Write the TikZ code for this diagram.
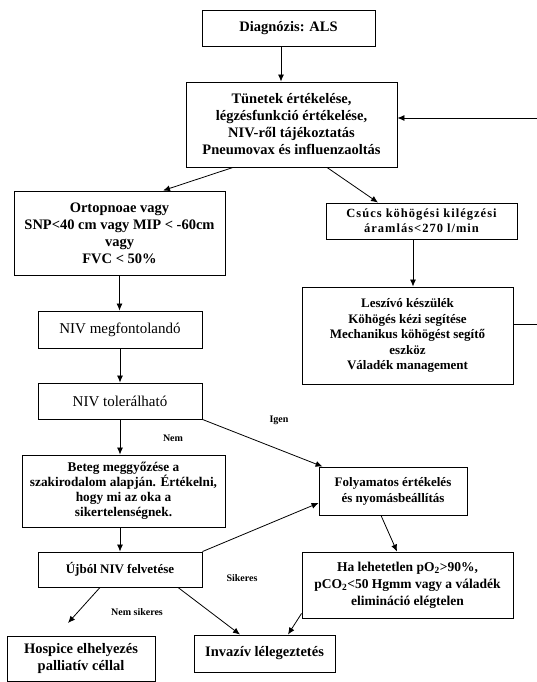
\documentclass[tikz,border=0pt]{standalone}
\usepackage{fontspec}
\setmainfont{Liberation Serif}
\usetikzlibrary{arrows.meta}

\begin{document}
\begin{tikzpicture}[x=1pt, y=-1pt,
	box/.style={draw, line width=0.9pt, align=center, inner sep=1pt, font=\bfseries\fontsize{14.5}{17}\selectfont},
	arr/.style={line width=0.8pt, -{Latex[length=7pt, width=6pt]}},
	lbl/.style={font=\bfseries\fontsize{10}{12}\selectfont}]
				\fill[white] (0,0) rectangle (537,682);
				\useasboundingbox (0,0) rectangle (537,682);
				\node[box, minimum width=173pt, minimum height=36pt] (diag) at (288.5,28) {Diagnózis: ALS};
				\node[box, minimum width=211pt, minimum height=85pt] (tunetek) at (291.5,124.5) {Tünetek értékelése,\\ légzésfunkció értékelése,\\ NIV-ről tájékoztatás\\ Pneumovax és influenzaoltás};
				\node[box, minimum width=211pt, minimum height=84pt] (orto) at (119.5,233) {Ortopnoae vagy\\ SNP<40 cm vagy MIP < -60cm\\ vagy\\ FVC < 50\%};
				\node[box, font=\bfseries\fontsize{12.5}{15}\selectfont\addfontfeature{LetterSpace=8}, minimum width=191pt, minimum height=36pt] (csucs) at (421.5,221) {Csúcs köhögési kilégzési\\ áramlás<270 l/min};
				\node[box, font=\bfseries\fontsize{13}{15.5}\selectfont, minimum width=211pt, minimum height=97pt] (leszivo) at (407.5,335.5) {Leszívó készülék\\ Köhögés kézi segítése\\ Mechanikus köhögést segítő\\ eszköz\\ Váladék management};
				\node[box, font=\fontsize{15}{17}\selectfont, minimum width=164pt, minimum height=37pt] (nivm) at (120,329.5) {NIV megfontolandó};
				\node[box, font=\fontsize{15}{17}\selectfont, minimum width=164pt, minimum height=36pt] (nivt) at (120,401) {NIV tolerálható};
				\node[box, font=\bfseries\fontsize{13.3}{15}\selectfont, minimum width=203pt, minimum height=72pt] (beteg) at (123.5,491) {Beteg meggyőzése a\\ szakirodalom alapján. Értékelni,\\ hogy mi az oka a\\ sikertelenségnek.};
				\node[box, font=\bfseries\fontsize{13}{16}\selectfont, minimum width=148pt, minimum height=48pt] (folyam) at (393,491) {Folyamatos értékelés\\ és nyomásbeállítás};
				\node[box, font=\bfseries\fontsize{13}{16}\selectfont, minimum width=164pt, minimum height=35pt] (ujbol) at (120,569.5) {Újból NIV felvetése};
				\node[box, font=\bfseries\fontsize{13.5}{17}\selectfont, minimum width=211pt, minimum height=66pt] (ha) at (407.5,585) {Ha lehetetlen pO\textsubscript{2}>90\%,\\ pCO\textsubscript{2}<50 Hgmm vagy a váladék\\ elimináció elégtelen};
				\node[box, minimum width=148pt, minimum height=45pt] (hospice) at (81,658.5) {Hospice elhelyezés\\ palliatív céllal};
				\node[box, minimum width=141pt, minimum height=37pt] (invaziv) at (264.5,653.5) {Invazív lélegeztetés};
				\node[lbl] (igen) at (279,420) {Igen};
				\node[lbl] (nem) at (173,438) {Nem};
				\node[lbl] (sikeres) at (242,578) {Sikeres};
				\node[lbl] (nemsik) at (137,612) {Nem sikeres};
				\coordinate (back) at (560,324);
				\coordinate (hosp) at (68,623);
				\draw[arr] ([xshift=-7.5pt]diag.south) -- ([xshift=-10.5pt]tunetek.north);
				\draw[arr] ([xshift=-58.5pt]tunetek.south) -- ([xshift=43.5pt]orto.north);
				\draw[arr] ([xshift=35.5pt]tunetek.south) -- ([xshift=-43.5pt]csucs.north);
				\draw[arr] ([xshift=-8.5pt]csucs.south) -- ([xshift=5.5pt]leszivo.north);
				\draw[arr] ([yshift=11.5pt]leszivo.east) -- (back) |- ([yshift=6.5pt]tunetek.east);
				\draw[arr] (orto.south) -- (orto.south |- nivm.north);
				\draw[arr] (nivm.south) -- (nivt.north);
				\draw[arr] (nivt.south) -- (nivt.south |- beteg.north);
				\draw[arr] (nivt.south east) -- ([xshift=4pt]folyam.north west);
				\draw[arr] (beteg.south -| ujbol.north) -- (ujbol.north);
				\draw[arr] (ujbol.north east) -- ([yshift=-12pt]folyam.west);
				\draw[arr] ([xshift=-12pt]folyam.south) -- ([xshift=-10.5pt]ha.north);
				\draw[arr] ([xshift=-20pt]ujbol.south) -- (hosp);
				\draw[arr] ([xshift=58pt]ujbol.south) -- ([xshift=-24.5pt]invaziv.north);
				\draw[arr] ([yshift=5pt]ha.south west) -- ([xshift=23.5pt]invaziv.north);
			\end{tikzpicture}
\end{document}
